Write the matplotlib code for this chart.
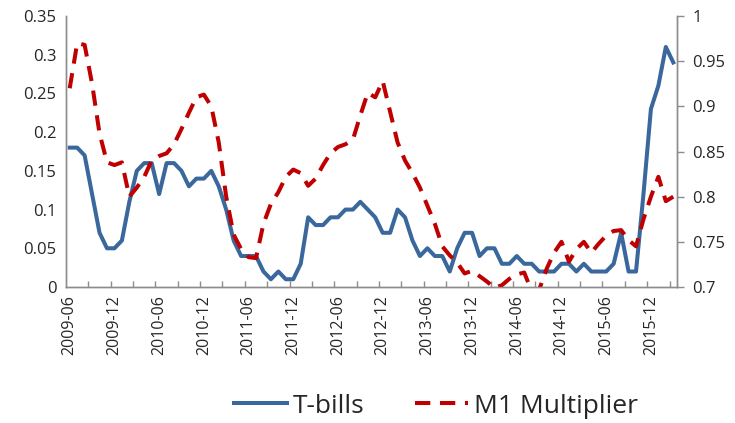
import matplotlib
matplotlib.use("Agg")
import matplotlib.pyplot as plt
from matplotlib.ticker import FixedLocator, FuncFormatter

# Monthly data, 2009-06 .. 2016-03
tbills = [0.18, 0.18, 0.17, 0.12, 0.07, 0.05, 0.05, 0.06, 0.11, 0.15,
          0.16, 0.16, 0.12, 0.16, 0.16, 0.15, 0.13, 0.14, 0.14, 0.15,
          0.13, 0.10, 0.06, 0.04, 0.04, 0.04, 0.02, 0.01, 0.02, 0.01,
          0.01, 0.03, 0.09, 0.08, 0.08, 0.09, 0.09, 0.10, 0.10, 0.11,
          0.10, 0.09, 0.07, 0.07, 0.10, 0.09, 0.06, 0.04, 0.05, 0.04,
          0.04, 0.02, 0.05, 0.07, 0.07, 0.04, 0.05, 0.05, 0.03, 0.03,
          0.04, 0.03, 0.03, 0.02, 0.02, 0.02, 0.03, 0.03, 0.02, 0.03,
          0.02, 0.02, 0.02, 0.03, 0.07, 0.02, 0.02, 0.12, 0.23, 0.26,
          0.31, 0.29]

m1_multiplier = [0.920, 0.970, 0.968, 0.925, 0.870, 0.838, 0.835, 0.838, 0.800, 0.810,
                 0.822, 0.840, 0.845, 0.848, 0.858, 0.875, 0.893, 0.910, 0.913, 0.900,
                 0.860, 0.800, 0.758, 0.742, 0.733, 0.732, 0.770, 0.792, 0.805, 0.822,
                 0.830, 0.826, 0.812, 0.820, 0.835, 0.848, 0.855, 0.858, 0.863, 0.890,
                 0.915, 0.910, 0.928, 0.894, 0.860, 0.840, 0.826, 0.810, 0.790, 0.770,
                 0.745, 0.735, 0.727, 0.715, 0.718, 0.712, 0.706, 0.699, 0.702, 0.709,
                 0.714, 0.716, 0.695, 0.697, 0.720, 0.738, 0.750, 0.728, 0.742, 0.750,
                 0.738, 0.748, 0.757, 0.762, 0.763, 0.752, 0.745, 0.775, 0.800, 0.822,
                 0.795, 0.800]

tick_labels = ["2009-06", "2009-12", "2010-06", "2010-12", "2011-06", "2011-12",
               "2012-06", "2012-12", "2013-06", "2013-12", "2014-06", "2014-12",
               "2015-06", "2015-12"]

left_ticks = [0, 0.05, 0.10, 0.15, 0.20, 0.25, 0.30, 0.35]
right_ticks = [0.70, 0.75, 0.80, 0.85, 0.90, 0.95, 1.00]

plt.rcParams['font.family'] = ['Open Sans', 'DejaVu Sans']

W, H = 735, 423
fig = plt.figure(figsize=(W / 100, H / 100), dpi=100)
ax = fig.add_axes([66 / W, 1 - 287 / H, (677 - 66) / W, (287 - 16) / H])
ax2 = ax.twinx()

n = len(tbills)
x = list(range(n))

blue = '#3A679C'
red = '#C00000'
gray = '#8C8C8C'
txt = '#262626'

l1, = ax.plot(x, tbills, color=blue, lw=2.9, solid_joinstyle='round', zorder=3)
l2, = ax2.plot(x, m1_multiplier, color=red, lw=2.9, dashes=(3.8, 2.4),
               dash_capstyle='butt', zorder=2)

ax.set_xlim(-0.5, n - 0.5)
ax.set_ylim(0, 0.35)
ax2.set_ylim(0.7, 1.0)

fmt = FuncFormatter(lambda v, p: ('%.2f' % v).rstrip('0').rstrip('.') if v != 0 else '0')
ax.yaxis.set_major_locator(FixedLocator(left_ticks))
ax.yaxis.set_major_formatter(fmt)
ax2.yaxis.set_major_locator(FixedLocator(right_ticks))
ax2.yaxis.set_major_formatter(fmt)

label_pos = [6 * i for i in range(len(tick_labels))]
ax.set_xticks(label_pos)
ax.set_xticklabels(tick_labels, rotation=90, fontsize=11.5, color=txt)
ax.set_xticks([i - 0.5 for i in range(3, n + 1, 3)], minor=True)
ax.tick_params(axis='x', which='major', length=0, pad=6)
ax.tick_params(axis='x', which='minor', length=4, direction='in', color=gray, width=1)
ax.tick_params(axis='y', which='major', length=0, labelsize=12, colors=txt, pad=7)
ax2.tick_params(axis='y', which='major', length=5, direction='out', color=gray,
                width=1, labelsize=12, labelcolor=txt, pad=6)

for a in (ax, ax2):
    a.spines['top'].set_visible(False)
    for s in ('left', 'right', 'bottom'):
        a.spines[s].set_color(gray)
        a.spines[s].set_linewidth(1)
    a.patch.set_visible(False)

leg = fig.legend([l1, l2], ['T-bills', 'M1 Multiplier'], loc='center',
                 bbox_to_anchor=(436 / W, 1 - 406 / H), ncol=2, frameon=False,
                 fontsize=19, handlelength=2.0, columnspacing=1.9, handletextpad=0.25)
for t in leg.get_texts():
    t.set_color(txt)

fig.savefig('out.png', dpi=100)
